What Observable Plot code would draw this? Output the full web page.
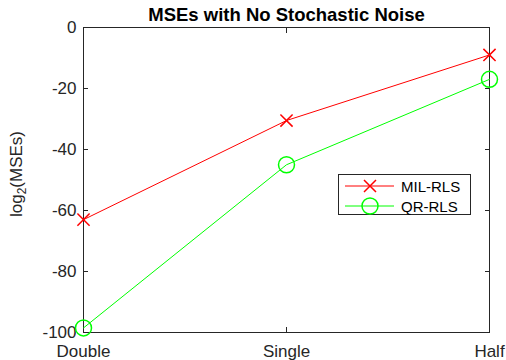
<!DOCTYPE html>
<html>
<head>
<meta charset="utf-8">
<script src="https://cdn.jsdelivr.net/npm/d3@7"></script>
<script src="https://cdn.jsdelivr.net/npm/@observablehq/plot@0.6"></script>
<style>
  html, body { margin: 0; padding: 0; background: #fff; }
  #chart svg { display: block; }
</style>
</head>
<body>
<div id="chart"></div>
<script>
const categories = ["Double", "Single", "Half"];
const milRls = [-63, -30.5, -9];
const qrRls = [-98.5, -45, -17];
const yTicks = [-100, -80, -60, -40, -20, 0];
const seriesNames = ["MIL-RLS", "QR-RLS"];
const titleText = "MSEs with No Stochastic Noise";

const font = "'Liberation Sans', Arial, Helvetica, sans-serif";
const axisColor = "#262626";
const red = "#ff0000";
const green = "#00ff00";

const milData = categories.map((c, i) => ({cat: c, v: milRls[i], s: seriesNames[0]}));
const qrData = categories.map((c, i) => ({cat: c, v: qrRls[i], s: seriesNames[1]}));

const plot = Plot.plot({
  width: 506,
  height: 360,
  marginLeft: 83,
  marginRight: 17,
  marginTop: 27,
  marginBottom: 28,
  style: {fontFamily: font, fontSize: "17px", color: axisColor, background: "#fff"},
  x: {type: "point", domain: categories, padding: 0},
  y: {domain: [-100, 0]},
  marks: [
    Plot.frame({stroke: axisColor, strokeWidth: 1}),
    Plot.axisY({ticks: yTicks, tickSize: -5, tickPadding: 12, tickFormat: d => String(d), label: null, stroke: axisColor, fill: axisColor, fontSize: 17}),
    Plot.axisY({anchor: "right", ticks: yTicks, tickSize: -5, tickFormat: () => "", label: null, stroke: axisColor}),
    Plot.axisX({tickSize: -5, tickPadding: 17, label: null, stroke: axisColor, fill: axisColor, fontSize: 17}),
    Plot.axisX({anchor: "top", tickSize: -5, tickFormat: () => "", label: null, stroke: axisColor}),
    Plot.line(milData, {x: "cat", y: "v", stroke: red, strokeWidth: 1}),
    Plot.line(qrData, {x: "cat", y: "v", stroke: green, strokeWidth: 1}),
    Plot.dot(milData, {x: "cat", y: "v", symbol: "times", r: 5.6, stroke: red, strokeWidth: 1.5}),
    Plot.dot(qrData, {x: "cat", y: "v", symbol: "circle", r: 8, stroke: green, strokeWidth: 1.5, fill: "none"}),
    Plot.text([titleText], {frameAnchor: "top", lineAnchor: "bottom", dy: -7, fontWeight: "bold", fontSize: 18.5, fill: "#000"})
  ]
});

document.getElementById("chart").appendChild(plot);

const svg = d3.select(plot);

// y label with subscript
const yl = svg.append("text")
  .attr("transform", "translate(22,174) rotate(-90)")
  .attr("text-anchor", "middle")
  .attr("font-family", font)
  .attr("font-size", 17)
  .attr("fill", axisColor);
yl.append("tspan").text("log");
yl.append("tspan").attr("font-size", 12).attr("dy", 4).text("2");
yl.append("tspan").attr("dy", -4).text("(MSEs)");

// legend
const lg = svg.append("g").attr("text-anchor", "start");
lg.append("rect")
  .attr("x", 338.5).attr("y", 174.5).attr("width", 132).attr("height", 40)
  .attr("fill", "#fff").attr("stroke", axisColor).attr("stroke-width", 1);
const entries = [
  {name: seriesNames[0], color: red, sym: "times", y: 186},
  {name: seriesNames[1], color: green, sym: "circle", y: 206}
];
entries.forEach(e => {
  lg.append("line").attr("x1", 345).attr("x2", 394).attr("y1", e.y).attr("y2", e.y)
    .attr("stroke", e.color).attr("stroke-width", 1);
  if (e.sym === "times") {
    lg.append("path").attr("d", "M364,180L376,192M364,192L376,180")
      .attr("stroke", e.color).attr("stroke-width", 1.5).attr("fill", "none");
  } else {
    lg.append("circle").attr("cx", 370).attr("cy", e.y).attr("r", 8)
      .attr("stroke", e.color).attr("stroke-width", 1.5).attr("fill", "none");
  }
  lg.append("text").attr("x", 401).attr("y", e.y + 5.5)
    .attr("text-anchor", "start")
    .attr("font-family", font).attr("font-size", 15).attr("fill", "#000")
    .text(e.name);
});
</script>
</body>
</html>
